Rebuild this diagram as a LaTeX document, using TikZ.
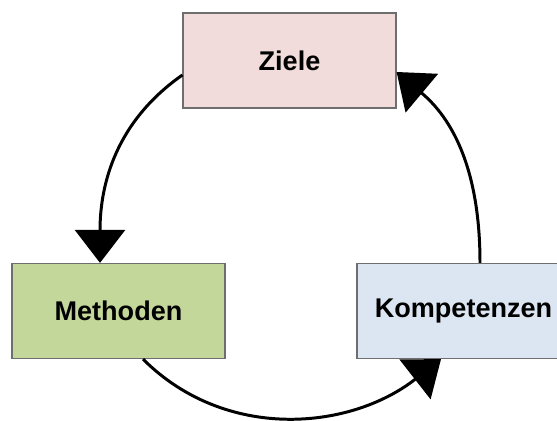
\documentclass[tikz,border=0pt]{standalone}
\usepackage{fontspec}
\setmainfont{Liberation Sans}
\usetikzlibrary{arrows.meta}
\definecolor{zielefill}{HTML}{F2DCDB}
\definecolor{methfill}{HTML}{C4D79B}
\definecolor{kompfill}{HTML}{DCE6F2}
\definecolor{boxline}{HTML}{6E6E6E}
\begin{document}
\begin{tikzpicture}[x=0.02cm,y=0.02cm,
  zielbox/.style={rectangle,draw=boxline,line width=0.7pt,inner sep=0pt,
    minimum width=4.26cm,minimum height=1.9cm,
    font=\fontsize{15.4pt}{18pt}\selectfont\bfseries},
  kreis/.style={line width=1.7pt,-{Triangle[length=0.66cm,width=1.0cm]}}]

\useasboundingbox (0,0) rectangle (557,421);

%boxes
\node[zielbox,fill=zielefill] (ziele) at (289.5,360.5) {Ziele};
\node[zielbox,fill=methfill] (methoden) at (118.5,110) {Methoden};
\node[zielbox,fill=kompfill] (kompetenzen) at (463.5,110) {Kompetenzen};

%cycle
\draw[kreis] ([yshift=-0.29cm]ziele.west) to[out=215,in=90] ([xshift=-0.37cm]methoden.north);
\draw[kreis] ([xshift=0.49cm]methoden.south) to[out=-45,in=218] ([xshift=-0.45cm]kompetenzen.south);
\draw[kreis] ([xshift=0.33cm]kompetenzen.north) to[out=90,in=-40] ([yshift=-0.23cm]ziele.east);

\end{tikzpicture}
\end{document}
